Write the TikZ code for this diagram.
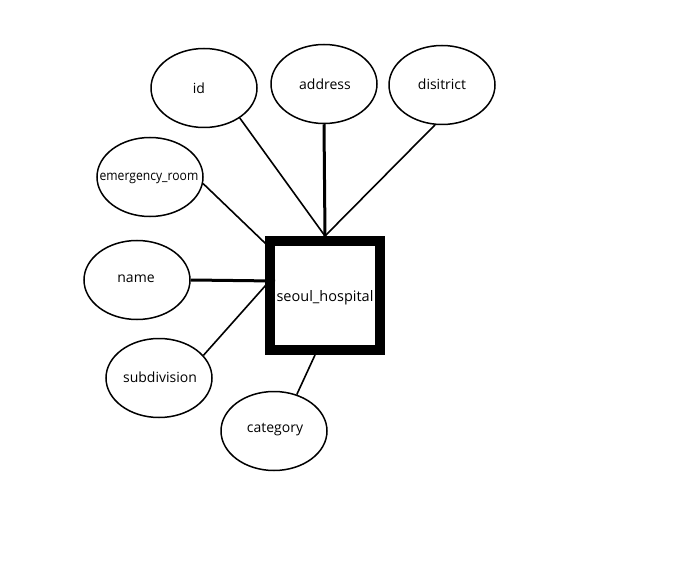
\documentclass[tikz,border=0pt]{standalone}
\usepackage{fontspec}
\setmainfont{Open Sans}
\usetikzlibrary{shapes.geometric,calc}
\begin{document}
\begin{tikzpicture}[x=1pt,y=-1pt,
  attr/.style={draw=black,line width=1.5pt,ellipse,minimum width=106pt,minimum height=79pt,inner sep=0pt},
  lbl/.style={font=\fontsize{14}{16}\selectfont,inner sep=0pt},
  ent/.style={draw=black,line width=10pt,rectangle,minimum width=110pt,minimum height=109pt,inner sep=0pt},
  thin/.style={line width=1.6pt},
  thick/.style={line width=3pt}]
\useasboundingbox[fill=white] (0,0) rectangle (696,564);
\node[ent] (box) at (325,295.5) {};
\node[lbl,font=\fontsize{14.5}{16}\selectfont] (boxlbl) at (325,298) {seoul\_hospital};
\node[attr] (id) at (204,88) {};
\node[lbl] (idl) at (199,88) {id};
\node[attr] (address) at (324,84) {};
\node[lbl] (addressl) at (325,84) {address};
\node[attr] (dist) at (442,85) {};
\node[lbl] (distl) at (442,84) {disitrict};
\node[attr] (em) at (150,177) {};
\node[lbl,font=\fontsize{13.5}{15}\selectfont] (eml) at (149,178) {\scalebox{0.9}[1]{emergency\_room}};
\node[attr] (name) at (137,280) {};
\node[lbl] (namel) at (136,279) {name};
\node[attr] (sub) at (159,378) {};
\node[lbl] (subl) at (160,377) {subdivision};
\node[attr] (cat) at (274,431) {};
\node[lbl] (catl) at (275,430) {category};
\coordinate (emend) at ($(box.north west)+(1,8)$);
\coordinate (nameend) at ($(box.west)+(10,-14.5)$);
\coordinate (subend) at ($(box.west)+(1,-10.5)$);
\coordinate (catend) at ($(box.south)+(-10,0)$);
\draw[thin] (id.-40) -- (box.north);
\draw[thick] (address.south) -- (box.north);
\draw[thin] (dist.-100) -- (box.north);
\draw[thin] (em.-7) -- (emend);
\draw[thick] (name.east) -- (nameend);
\draw[thin] (sub.27) -- (subend);
\draw[thin] (cat.58) -- (catend);
\end{tikzpicture}
\end{document}
